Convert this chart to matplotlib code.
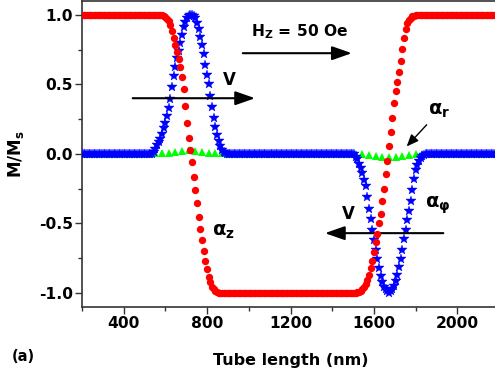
import numpy as np
import matplotlib
matplotlib.use("Agg")
import matplotlib.pyplot as plt
from matplotlib.ticker import MultipleLocator

plt.rcParams['font.family'] = ['DejaVu Sans']
plt.rcParams['font.weight'] = 'bold'
plt.rcParams['mathtext.fontset'] = 'custom'
plt.rcParams['mathtext.rm'] = 'DejaVu Sans:bold'
plt.rcParams['mathtext.it'] = 'DejaVu Sans:bold'
plt.rcParams['mathtext.bf'] = 'DejaVu Sans:bold'

# ---------------- data ----------------
x_start, x_step, n_pts = 200, 8, 251          # tube length grid (nm)
tube_length = x_start + x_step * np.arange(n_pts)

alpha_z_wall1 = [0.998, 0.993, 0.985, 0.972, 0.955, 0.93, 0.885, 0.835,
                 0.785, 0.735, 0.685, 0.625, 0.555, 0.465, 0.345, 0.225,
                 0.115, 0.03, -0.06, -0.165, -0.26, -0.355, -0.455, -0.54,
                 -0.62, -0.70, -0.77, -0.83, -0.885, -0.925, -0.955, -0.975,
                 -0.99, -0.997]
alpha_z_wall2 = [-1.0, -0.999, -0.997, -0.993, -0.985, -0.975, -0.96, -0.94,
                 -0.91, -0.87, -0.825, -0.775, -0.705, -0.635, -0.575, -0.50,
                 -0.43, -0.34, -0.25, -0.145, -0.05, 0.055, 0.16, 0.26,
                 0.365, 0.45, 0.52, 0.59, 0.665, 0.755, 0.83, 0.895,
                 0.94, 0.965, 0.98, 0.99, 0.995, 0.998]
alpha_z = [1.0] * 48 + alpha_z_wall1 + [-1.0] * 81 + alpha_z_wall2 + [1.0] * 50

alpha_phi_wall1 = [0.01, 0.035, 0.06, 0.085, 0.11, 0.145, 0.185, 0.22,
                   0.27, 0.33, 0.395, 0.48, 0.56, 0.628, 0.69, 0.74,
                   0.795, 0.855, 0.91, 0.945, 0.975, 0.995, 1.0, 1.0,
                   0.995, 0.975, 0.94, 0.895, 0.84, 0.785, 0.715, 0.64,
                   0.57, 0.5, 0.415, 0.335, 0.255, 0.19, 0.135, 0.09,
                   0.055, 0.03, 0.015, 0.005]
alpha_phi_wall2 = [-0.005, -0.02, -0.04, -0.07, -0.105, -0.14, -0.185, -0.235,
                   -0.31, -0.40, -0.47, -0.545, -0.62, -0.695, -0.76, -0.825,
                   -0.878, -0.925, -0.955, -0.975, -0.99, -1.0, -0.99, -0.975,
                   -0.95, -0.915, -0.87, -0.815, -0.755, -0.69, -0.615, -0.545,
                   -0.475, -0.415, -0.34, -0.26, -0.18, -0.115, -0.08, -0.05,
                   -0.03, -0.015, -0.008, -0.003, 0.0]
alpha_phi = [0.0] * 43 + alpha_phi_wall1 + [0.0] * 76 + alpha_phi_wall2 + [0.0] * 43

r_step, r_pts = 32, 63
tube_length_r = x_start + r_step * np.arange(r_pts)
alpha_r_wall1 = [0.003, 0.005, 0.008, 0.012, 0.018, 0.025, 0.018, 0.012,
                 0.008, 0.005, 0.003]
alpha_r_wall2 = [-0.002, -0.005, -0.01, -0.015, -0.02, -0.025, -0.02, -0.015,
                 -0.01, -0.005, -0.002, 0.0]
alpha_r = [0.0] * 11 + alpha_r_wall1 + [0.0] * 19 + alpha_r_wall2 + [0.0] * 10

x_ticks = [400, 800, 1200, 1600, 2000]
y_ticks = [-1.0, -0.5, 0.0, 0.5, 1.0]

# ---------------- figure ----------------
fig = plt.figure(figsize=(4.95, 3.8), dpi=100)
ax = fig.add_axes([0.1657, 0.193, 0.8424, 0.8045])

ax.plot(tube_length_r, alpha_r, linestyle='none', marker='^', color='#00ff00',
        markersize=5.5, markeredgewidth=0, zorder=2)
ax.plot(tube_length, alpha_phi, linestyle='none', marker='*', color='#0000ff',
        markersize=7.5, markeredgewidth=0.3, zorder=3)
ax.plot(tube_length, alpha_z, linestyle='none', marker='o', color='#ff0000',
        markersize=5.3, markeredgewidth=0, zorder=4)

ax.set_xlim(200, 2200)
ax.set_ylim(-1.1, 1.1)
ax.set_xticks(x_ticks)
ax.set_yticks(y_ticks)
ax.set_yticklabels([f"{v:.1f}" for v in y_ticks])
ax.xaxis.set_minor_locator(MultipleLocator(200))
ax.yaxis.set_minor_locator(MultipleLocator(0.25))
ax.tick_params(which='both', direction='out', width=1.0, colors='#333333',
               labelcolor='black', labelsize=11.2)
ax.tick_params(which='major', length=5)
ax.tick_params(which='minor', length=3)
ax.tick_params(axis='x', which='major', pad=1.5)
ax.tick_params(axis='y', which='major', pad=1.5)
for lbl in ax.get_xticklabels() + ax.get_yticklabels():
    lbl.set_fontweight('bold')
for s in ax.spines.values():
    s.set_linewidth(1.2)
    s.set_color('#333333')

ax.set_xlabel('Tube length (nm)', fontsize=11.5, fontweight='bold', labelpad=16)
ax.set_ylabel(r'$\mathbf{M/M_s}$', fontsize=12, labelpad=9)

# annotations
arrow_big = dict(arrowstyle='-|>,head_length=0.8,head_width=0.28', color='black',
                 lw=1.5, mutation_scale=15, shrinkA=0, shrinkB=0)
ax.annotate('', xy=(1494, 0.724), xytext=(971, 0.724), arrowprops=arrow_big)
ax.text(1010, 0.88, r'$\mathbf{H_Z}$ = 50 Oe', fontsize=11.2, fontweight='bold',
        va='center', ha='left')
ax.annotate('', xy=(1030, 0.40), xytext=(443, 0.40), arrowprops=arrow_big)
ax.text(905, 0.53, 'V', fontsize=12, fontweight='bold', ha='center', va='center')
ax.annotate('', xy=(1365, -0.571), xytext=(1933, -0.571), arrowprops=arrow_big)
ax.text(1477, -0.43, 'V', fontsize=12, fontweight='bold', ha='center', va='center')

arrow_small = dict(arrowstyle='-|>,head_length=0.6,head_width=0.25', color='black',
                   lw=1.0, mutation_scale=12, shrinkA=0, shrinkB=0)
ax.annotate('', xy=(1757, 0.053), xytext=(1853, 0.209), arrowprops=arrow_small)
ax.text(1915, 0.31, r'$\mathbf{α_r}$', fontsize=14, ha='center', va='center')
ax.text(1905, -0.37, r'$\mathbf{α_φ}$', fontsize=14, ha='center', va='center')
ax.text(880, -0.56, r'$\mathbf{α_z}$', fontsize=14, ha='center', va='center')

fig.text(0.048, 0.063, '(a)', fontsize=10.5, fontweight='bold', ha='center', va='center')

fig.savefig('out.png', dpi=100)
